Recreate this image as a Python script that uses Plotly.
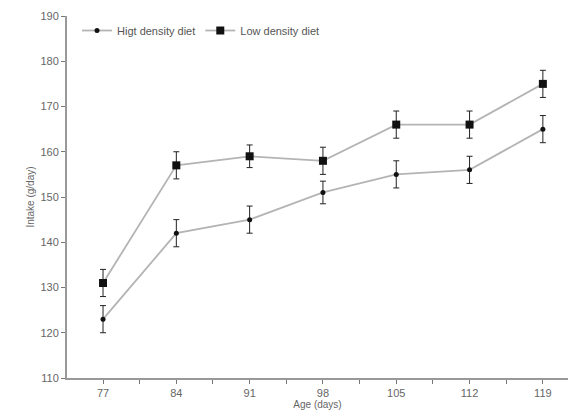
import plotly.graph_objects as go

ages = [77, 84, 91, 98, 105, 112, 119]
high = [123, 142, 145, 151, 155, 156, 165]
high_err = [3, 3, 3, 2.5, 3, 3, 3]
low = [131, 157, 159, 158, 166, 166, 175]
low_err = [3, 3, 2.5, 3, 3, 3, 3]
y_ticks = [110, 120, 130, 140, 150, 160, 170, 180, 190]

fig = go.Figure()
fig.add_trace(go.Scatter(
    x=ages, y=high, name="Higt density diet", mode="lines+markers",
    line=dict(color="#b4b4b4", width=1.8),
    marker=dict(symbol="circle", size=5, color="#111"),
    error_y=dict(type="data", array=high_err, color="#222", thickness=1, width=3),
))
fig.add_trace(go.Scatter(
    x=ages, y=low, name="Low density diet", mode="lines+markers",
    line=dict(color="#b4b4b4", width=1.8),
    marker=dict(symbol="square", size=8, color="#111"),
    error_y=dict(type="data", array=low_err, color="#222", thickness=1, width=3),
))

fig.update_layout(
    width=571, height=419,
    margin=dict(l=67, r=3, t=16, b=41),
    paper_bgcolor="white", plot_bgcolor="white",
    font=dict(family="Liberation Sans, Arial", size=11, color="#666"),
    showlegend=True,
    legend=dict(orientation="h", x=0.02, y=1.0, xanchor="left", yanchor="top",
                bgcolor="rgba(0,0,0,0)", font=dict(size=11, color="#555"),
                itemwidth=30),
    xaxis=dict(
        range=[73.56, 121.4], tickvals=ages, ticks="outside", ticklen=4,
        tickcolor="#777", showline=True, linecolor="#999", linewidth=2,
        showgrid=False, zeroline=False,
        minor=dict(tickvals=[80.5, 87.5, 94.5, 101.5, 108.5, 115.5], ticks="outside", ticklen=4, tickcolor="#777"),
        title=dict(text="Age (days)", standoff=2, font=dict(size=10, color="#666")),
    ),
    yaxis=dict(
        range=[110, 190], tickvals=y_ticks, ticks="outside", ticklen=4,
        tickcolor="#777", showline=True, linecolor="#999", linewidth=2,
        showgrid=False, zeroline=False,
        title=dict(text="Intake (g/day)", standoff=4, font=dict(size=10, color="#666")),
    ),
)

fig.write_html("out.html")
